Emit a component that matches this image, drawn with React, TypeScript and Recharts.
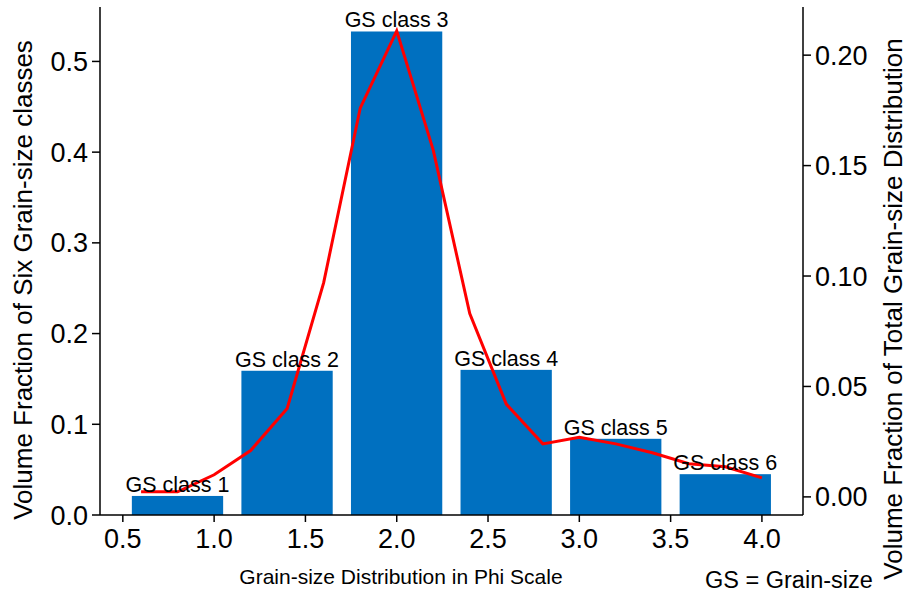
import { Bar, ComposedChart, LabelList, Line, XAxis, YAxis } from 'recharts'

const phiValues = [0.6, 0.8, 1.0, 1.2, 1.4, 1.6, 1.8, 2.0, 2.2, 2.4, 2.6, 2.8, 3.0, 3.2, 3.4, 3.6, 3.8, 4.0]
const totalFraction = [
  0.0023, 0.0023, 0.01, 0.021, 0.04, 0.097, 0.176, 0.211, 0.157, 0.083, 0.042, 0.024, 0.027, 0.024,
  0.02, 0.015, 0.0136, 0.0086,
]

const classCenters = [0.8, 1.4, 2.0, 2.6, 3.2, 3.8]
const classFraction = [0.021, 0.159, 0.533, 0.16, 0.084, 0.045]
const classLabels = ['GS class 1', 'GS class 2', 'GS class 3', 'GS class 4', 'GS class 5', 'GS class 6']

const xTicks = [0.5, 1.0, 1.5, 2.0, 2.5, 3.0, 3.5, 4.0]
const leftTicks = [0, 0.1, 0.2, 0.3, 0.4, 0.5]
const rightTicks = [0, 0.05, 0.1, 0.15, 0.2]

const data = phiValues.map((phi, i) => {
  const k = classCenters.findIndex((c) => Math.abs(c - phi) < 1e-6)
  return {
    phi,
    total: totalFraction[i],
    cls: k >= 0 ? classFraction[k] : null,
    label: k >= 0 ? classLabels[k] : '',
  }
})

const W = 908
const H = 598
const margin = { top: 7, right: 25, bottom: 23, left: 10 }
const leftAxisW = 90
const rightAxisW = 80
const xDomain: [number, number] = [0.375, 4.225]
const barWidthPhi = 0.5
const plotW = W - margin.left - margin.right - leftAxisW - rightAxisW
const barPx = (barWidthPhi * plotW) / (xDomain[1] - xDomain[0])

const font = '"Liberation Sans", Arial, Helvetica, sans-serif'
const tickStyle = { fill: '#000', fontSize: 27, fontFamily: font }
const axisLine = { stroke: '#000', strokeWidth: 1.5 }

const WideBar = (props: any) => {
  const { x, y, width, height, fill } = props
  if (!height) return null
  const cx = x + width / 2
  return <rect x={cx - barPx / 2} y={y} width={barPx} height={height} fill={fill} />
}

const BarLabel = (props: any) => {
  const { x, y, width, value } = props
  if (!value) return null
  return (
    <text x={x + width / 2} y={y - 4} textAnchor="middle" fontSize={21.5} fontFamily={font} fill="#000">
      {value}
    </text>
  )
}

export default function App() {
  return (
    <div style={{ position: 'absolute', left: 0, top: 0, width: W, height: H, background: '#fff' }}>
      <ComposedChart width={W} height={H} data={data} margin={margin}>
        <XAxis
          dataKey="phi"
          type="number"
          domain={xDomain}
          ticks={xTicks}
          tickFormatter={(v: number) => v.toFixed(1)}
          tick={tickStyle}
          tickLine={axisLine}
          axisLine={axisLine}
          tickSize={7}
          tickMargin={7}
          height={60}
          label={{
            content: ({ viewBox }: any) => (
              <text
                x={401}
                y={viewBox.y + 69}
                textAnchor="middle"
                fontSize={21}
                fontFamily={font}
                fill="#000"
              >
                Grain-size Distribution in Phi Scale
              </text>
            ),
          }}
        />
        <XAxis
          xAxisId="top"
          dataKey="phi"
          type="number"
          orientation="top"
          domain={xDomain}
          tick={false}
          tickLine={false}
          axisLine={axisLine}
          height={0}
        />
        <YAxis
          yAxisId="left"
          domain={[0, 0.56]}
          ticks={leftTicks}
          tickFormatter={(v: number) => v.toFixed(1)}
          tick={tickStyle}
          tickLine={axisLine}
          axisLine={axisLine}
          tickSize={8}
          tickMargin={4}
          width={leftAxisW}
          label={{
            content: ({ viewBox }: any) => {
              const cx = viewBox.x + 22
              const cy = viewBox.y + 273
              return (
                <text
                  x={cx}
                  y={cy}
                  transform={`rotate(-90 ${cx} ${cy})`}
                  textAnchor="middle"
                  fontSize={26}
                  fontFamily={font}
                  fill="#000"
                >
                  Volume Fraction of Six Grain-size classes
                </text>
              )
            },
          }}
        />
        <YAxis
          yAxisId="right"
          orientation="right"
          domain={[-0.0082, 0.2218]}
          ticks={rightTicks}
          tickFormatter={(v: number) => v.toFixed(2)}
          tick={tickStyle}
          tickLine={axisLine}
          axisLine={axisLine}
          tickSize={8}
          tickMargin={4}
          width={rightAxisW}
          label={{
            content: ({ viewBox }: any) => {
              const cx = viewBox.x + viewBox.width + 19
              const cy = viewBox.y + 302
              return (
                <text
                  x={cx}
                  y={cy}
                  transform={`rotate(-90 ${cx} ${cy})`}
                  textAnchor="middle"
                  fontSize={26}
                  fontFamily={font}
                  fill="#000"
                >
                  Volume Fraction of Total Grain-size Distribution
                </text>
              )
            },
          }}
        />
        <Bar yAxisId="left" dataKey="cls" fill="#0070c0" shape={WideBar} isAnimationActive={false}>
          <LabelList dataKey="label" content={BarLabel} />
        </Bar>
        <Line
          yAxisId="right"
          dataKey="total"
          stroke="#ff0000"
          strokeWidth={3}
          dot={false}
          isAnimationActive={false}
        />
      </ComposedChart>
      <div
        style={{
          position: 'absolute',
          left: 705,
          top: 567,
          fontSize: 23.5,
          fontFamily: font,
          color: '#000',
          whiteSpace: 'nowrap',
        }}
      >
        GS = Grain-size
      </div>
    </div>
  )
}
